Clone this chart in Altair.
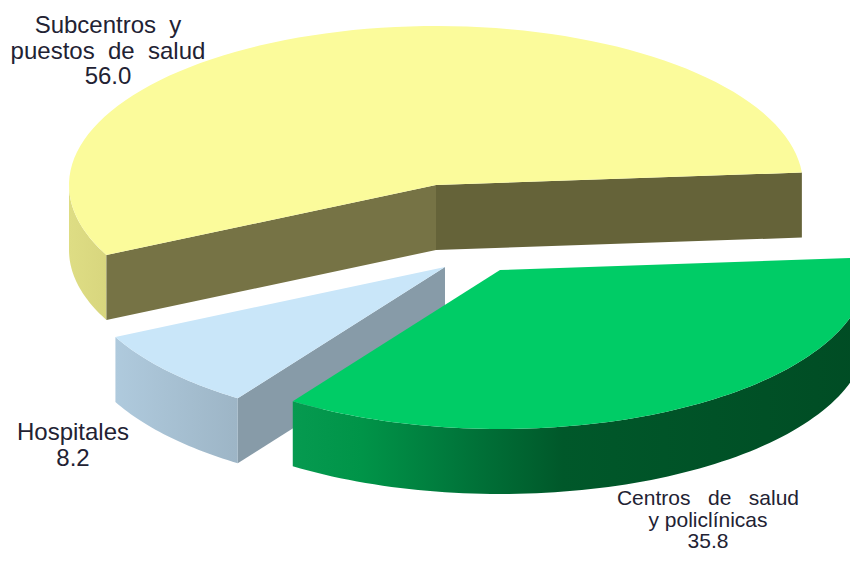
import math
import altair as alt
import pandas as pd

NB = "\u00a0"
labels = [[f"Subcentros{NB} y", f"puestos{NB} de{NB} salud", "56.0"],
          ["Hospitales", "8.2"],
          [f"Centros{NB}{NB} de{NB}{NB} salud", "y policlínicas", "35.8"]]
values = [56.0, 8.2, 35.8]
centers = [(436, 185), (445, 267), (500, 270)]
start_angle = 4.5
rx, ry, depth = 367, 159, 65
label_x = [108, 73, 708]
label_y = [26, 433, 499]
line_h = [25.5, 25.5, 21.5]
label_size = [24, 24, 21]

W, H = 842, 545
xs = alt.Scale(domain=[8, 8 + W], range=[0, W], nice=False, zero=False)
ys = alt.Scale(domain=[8, 8 + H], range=[0, H], nice=False, zero=False)

def grad(stops, x1=0, x2=1):
    return alt.Gradient(gradient="linear", x1=x1, x2=x2, y1=0, y2=0,
                        stops=[alt.GradientStop(offset=o, color=c) for o, c in stops])

def pt(c, deg):
    a = math.radians(deg)
    return (c[0] + rx * math.cos(a), c[1] - ry * math.sin(a))

def rim(c, a0, a1, n=90):
    return [pt(c, a0 + (a1 - a0) * i / n) for i in range(n + 1)]

def poly(pts, fill):
    df = pd.DataFrame({"x": [p[0] for p in pts] + [pts[0][0]],
                       "y": [p[1] for p in pts] + [pts[0][1]],
                       "i": range(len(pts) + 1)})
    return alt.Chart(df).mark_line(fill=fill, clip=True, strokeWidth=0, interpolate="linear").encode(
        x=alt.X("x:Q", scale=xs, axis=None),
        y=alt.Y("y:Q", scale=ys, axis=None),
        order="i:Q")

angles = []
a = start_angle
for v in values:
    angles.append((a, a + v * 3.6))
    a += v * 3.6

layers = []
# Yellow slice
c = centers[0]; a0, a1 = angles[0]
pe, ps = pt(c, a1), pt(c, a0)
low = rim(c, 180, a1, 30)
layers.append(poly(low + [(p[0], p[1] + depth) for p in reversed(low)], grad([(0, "#DEDD84"), (1, "#D8D67E")])))
layers.append(poly([pe, c, (c[0], c[1] + depth), (pe[0], pe[1] + depth)], "#767345"))
layers.append(poly([c, ps, (ps[0], ps[1] + depth), (c[0], c[1] + depth)], "#656339"))
layers.append(poly([c] + rim(c, a0, a1), "#FBFB9B"))
# Hospital slice
c = centers[1]; a0, a1 = angles[1]
arc = rim(c, a0, a1, 30)
layers.append(poly([c, arc[-1], (arc[-1][0], arc[-1][1] + depth), (c[0], c[1] + depth)], "#879BA8"))
layers.append(poly(arc + [(p[0], p[1] + depth) for p in reversed(arc)], grad([(0, "#AFCADD"), (1, "#9DB5C6")])))
layers.append(poly([c] + arc, "#C9E6F9"))
# Green slice
c = centers[2]; a0, a1 = angles[2]
arc = rim(c, a0, a1, 90)
layers.append(poly(arc + [(p[0], p[1] + depth) for p in reversed(arc)],
                   grad([(0, "#069A50"), (0.12, "#009448"), (0.275, "#00793C"), (0.47, "#00582A"), (1, "#004C24")])))
layers.append(poly([c] + arc, "#00CC66"))

# Labels
for lines, lx, ly, lh, sz in zip(labels, label_x, label_y, line_h, label_size):
    rows = [{"x": lx, "y": ly + j * lh, "t": t} for j, t in enumerate(lines)]
    layers.append(alt.Chart(pd.DataFrame(rows)).mark_text(font="Liberation Sans", fontSize=sz, align="center",
                                                          baseline="middle", color="#222233").encode(
        x=alt.X("x:Q", scale=xs, axis=None), y=alt.Y("y:Q", scale=ys, axis=None), text="t"))

chart = alt.layer(*layers).properties(width=W, height=H, padding=0, autosize="none",
                                      background="white").configure_view(stroke=None)
chart.save("out.html", embed_options={"renderer": "svg", "actions": False})
